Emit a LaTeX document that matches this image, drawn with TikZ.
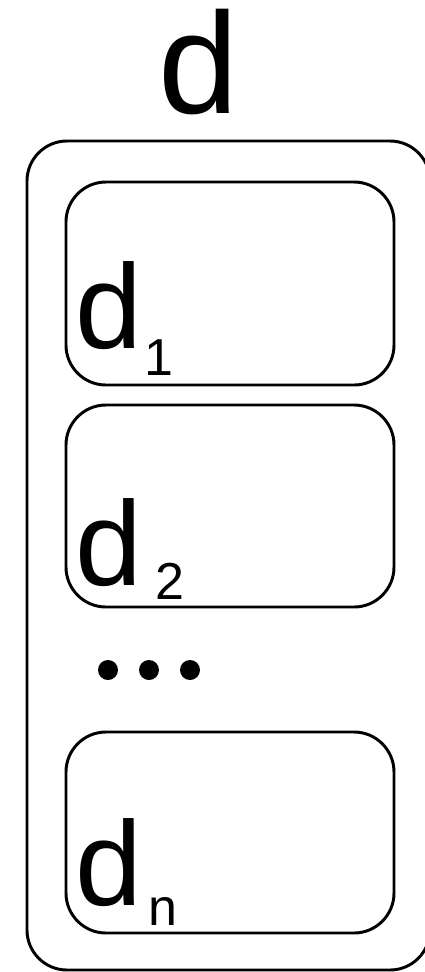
\documentclass[tikz,border=0pt]{standalone}
\usepackage{fontspec}
\setmainfont{Liberation Sans}

\tikzset{
  frame/.style={draw=black, line width=2.2pt, rounded corners=30pt},
  mainlabel/.style={inner sep=0pt, anchor=base west, font=\fontsize{90}{90}\selectfont},
  sublabel/.style={inner sep=0pt, anchor=base west, font=\fontsize{39}{39}\selectfont},
}

\begin{document}
\begin{tikzpicture}[x=0.75pt, y=-0.75pt]

  %–– Marco de la imagen ––
  \useasboundingbox (0,0) rectangle (425,972);

  %–– Parámetros de las cajas ––
  \def\boxleft{66}
  \def\boxright{394}

  %–– Caja exterior y título ––
  \draw[frame] (27,141) rectangle (430,970);
  \node[inner sep=0pt, anchor=base west, font=\fontsize{108}{108}\selectfont]
    (title) at (158,113) {d};

  %–– Cajas interiores con sus etiquetas ––
  \foreach \i/\top/\bot/\dbase/\sx/\sbase in {
    1/182/385/348/144/375,
    2/405/607/585/155/599,
    n/732/933/905/148/925
  }{
    \draw[frame] (\boxleft,\top) rectangle (\boxright,\bot);
    \node[mainlabel] (lab\i) at (75,\dbase) {d};
    \node[sublabel] (sub\i) at (\sx,\sbase) {\i};
  }

  %–– Puntos suspensivos ––
  \foreach \x in {108,149,190}{
    \fill (\x,670) circle (10);
  }

\end{tikzpicture}
\end{document}
